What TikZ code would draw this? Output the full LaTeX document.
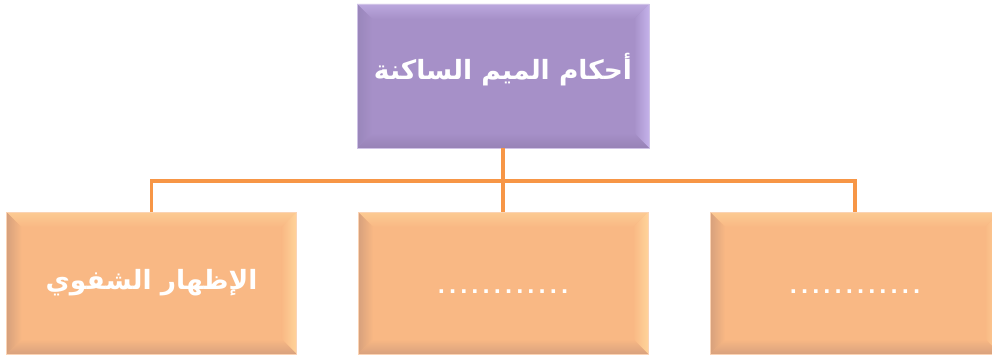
\documentclass[tikz,border=0pt]{standalone}
\usepackage{fontspec}
\TeXXeTstate=1
\newfontfamily\arabicfont[Script=Arabic]{DejaVu Sans}
\newfontfamily\dotfont[LetterSpace=18]{DejaVu Sans}
\definecolor{lineorange}{HTML}{F79646}
\definecolor{orMain}{HTML}{F9B884}
\definecolor{orTop}{HTML}{FCCB93}
\definecolor{orRight}{HTML}{FFD49A}
\definecolor{orBottom}{HTML}{D9A27E}
\definecolor{orLeft}{HTML}{D6A07C}
\definecolor{orBorder}{HTML}{FBD3B4}
\definecolor{puMain}{HTML}{A690C8}
\definecolor{puTop}{HTML}{BBA8DE}
\definecolor{puRight}{HTML}{C4B2EA}
\definecolor{puBottom}{HTML}{9782B6}
\definecolor{puLeft}{HTML}{9986BA}
\definecolor{puBorder}{HTML}{CFC2E6}
\tikzset{
  bevelbox/.style n args={6}{draw=#1, line width=0.8pt, fill=#2,
    minimum width=290pt, minimum height=142pt, inner sep=0pt, outer sep=0pt,
    text=white, font=\arabicfont\bfseries\fontsize{26.5}{30}\selectfont,
    path picture={
      \coordinate (A) at (path picture bounding box.north west);
      \coordinate (B) at (path picture bounding box.north east);
      \coordinate (C) at (path picture bounding box.south east);
      \coordinate (D) at (path picture bounding box.south west);
      \coordinate (a) at ([shift={(15pt,-15pt)}]A);
      \coordinate (b) at ([shift={(-15pt,-15pt)}]B);
      \coordinate (c) at ([shift={(-15pt,15pt)}]C);
      \coordinate (d) at ([shift={(15pt,15pt)}]D);
      \shade[top color=#3, bottom color=#2] (A)--(B)--(b)--(a)--cycle;
      \shade[left color=#2, right color=#4] (B)--(C)--(c)--(b)--cycle;
      \shade[top color=#2, bottom color=#5] (C)--(D)--(d)--(c)--cycle;
      \shade[left color=#6, right color=#2] (D)--(A)--(a)--(d)--cycle;
    }},
  orangebox/.style={bevelbox={orBorder}{orMain}{orTop}{orRight}{orBottom}{orLeft}},
  purplebox/.style={bevelbox={puBorder}{puMain}{puTop}{puRight}{puBottom}{puLeft}, minimum width=292pt, minimum height=144pt},
  link/.style={draw=lineorange, line width=3.2pt},
  dots/.style={font=\dotfont\bfseries\fontsize{20}{24}\selectfont, text height=20pt, text depth=0pt}
}
\begin{document}
\begin{tikzpicture}[x=1pt,y=-1pt]
  \useasboundingbox (0,0) rectangle (992,358);
  \clip (0,0) rectangle (992,358);
  \coordinate (bar) at (503,181);
  \node[purplebox, text height=22pt, text depth=14pt] (top) at (503,76) {\beginR أحكام الميم الساكنة\endR};
  \node[orangebox] (left) at (151.5,283) {\beginR الإظهار الشفوي\endR};
  \node[orangebox, dots] (mid) at (503,283) {............};
  \node[orangebox, dots] (right) at (855,283) {............};
  \draw[link] (top.south) -- (bar);
  \draw[link] (left.north) |- (bar) -| (right.north);
  \draw[link] (bar) -- (mid.north);
\end{tikzpicture}
\end{document}
